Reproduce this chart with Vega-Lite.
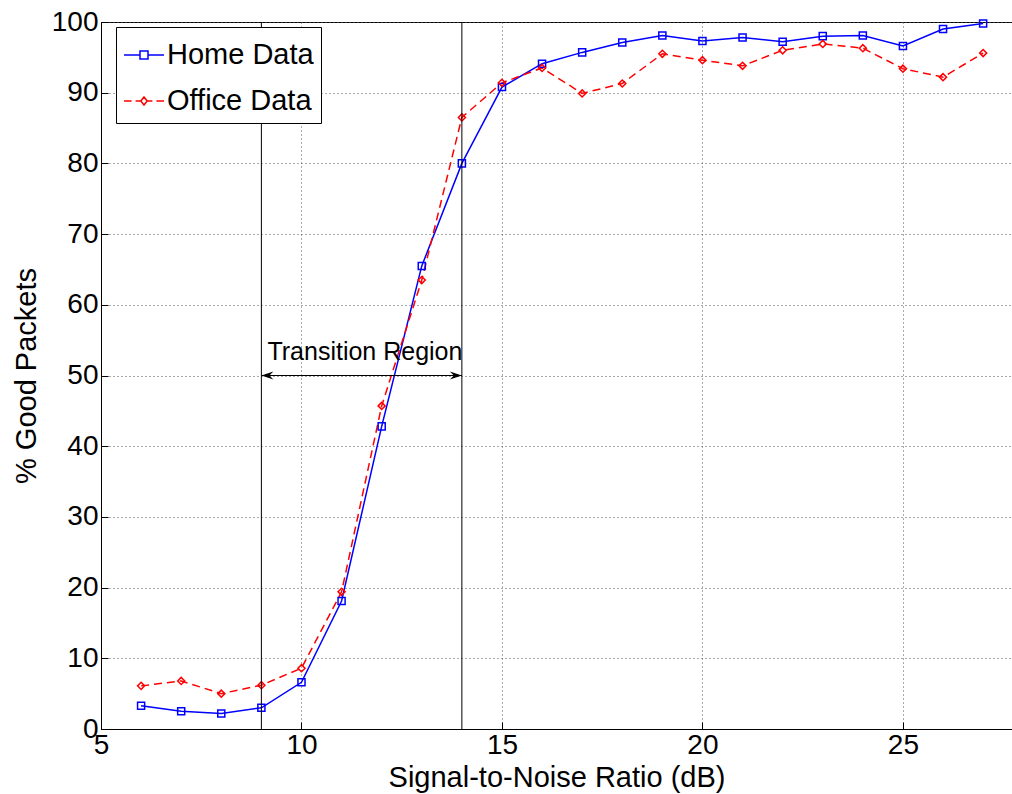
{
  "$schema": "https://vega.github.io/schema/vega-lite/v6.json",
  "autosize": "none",
  "padding": {"left": 101, "top": 22, "right": 0, "bottom": 65},
  "width": 911,
  "height": 707,
  "background": "white",
  "config": {
    "view": {"stroke": "black", "strokeWidth": 1},
    "font": "Liberation Sans",
    "axis": {
      "labelFont": "Liberation Sans", "labelFontSize": 28, "labelColor": "black",
      "titleFont": "Liberation Sans", "titleFontSize": 29, "titleFontWeight": "normal", "titleColor": "black",
      "domainColor": "black", "tickColor": "black", "tickSize": -7,
      "grid": true, "gridColor": "#555", "gridDash": [1, 3], "gridWidth": 1,
      "labelOverlap": false, "labelFlush": false, "labelBound": false
    },
    "legend": {
      "title": null, "orient": "none", "legendX": 15, "legendY": 5, "direction": "vertical",
      "strokeColor": "black", "fillColor": "white", "padding": 7,
      "labelFont": "Liberation Sans", "labelFontSize": 29, "labelColor": "black", "labelLimit": 400,
      "symbolSize": 1600, "symbolStrokeWidth": 1.5, "symbolOpacity": 1, "symbolFillColor": "transparent",
      "labelOffset": 2, "rowPadding": 10
    }
  },
  "datasets": {
    "perf": [
      {"snr": 6, "series": "Home Data", "pct": 3.3},
      {"snr": 7, "series": "Home Data", "pct": 2.5},
      {"snr": 8, "series": "Home Data", "pct": 2.2},
      {"snr": 9, "series": "Home Data", "pct": 3.0},
      {"snr": 10, "series": "Home Data", "pct": 6.6},
      {"snr": 11, "series": "Home Data", "pct": 18.1},
      {"snr": 12, "series": "Home Data", "pct": 42.8},
      {"snr": 13, "series": "Home Data", "pct": 65.5},
      {"snr": 14, "series": "Home Data", "pct": 80.0},
      {"snr": 15, "series": "Home Data", "pct": 90.8},
      {"snr": 16, "series": "Home Data", "pct": 94.1},
      {"snr": 17, "series": "Home Data", "pct": 95.7},
      {"snr": 18, "series": "Home Data", "pct": 97.1},
      {"snr": 19, "series": "Home Data", "pct": 98.1},
      {"snr": 20, "series": "Home Data", "pct": 97.3},
      {"snr": 21, "series": "Home Data", "pct": 97.8},
      {"snr": 22, "series": "Home Data", "pct": 97.2},
      {"snr": 23, "series": "Home Data", "pct": 98.0},
      {"snr": 24, "series": "Home Data", "pct": 98.1},
      {"snr": 25, "series": "Home Data", "pct": 96.6},
      {"snr": 26, "series": "Home Data", "pct": 99.0},
      {"snr": 27, "series": "Home Data", "pct": 99.8},
      {"snr": 6, "series": "Office Data", "pct": 6.1},
      {"snr": 7, "series": "Office Data", "pct": 6.8},
      {"snr": 8, "series": "Office Data", "pct": 5.0},
      {"snr": 9, "series": "Office Data", "pct": 6.2},
      {"snr": 10, "series": "Office Data", "pct": 8.6},
      {"snr": 11, "series": "Office Data", "pct": 19.4},
      {"snr": 12, "series": "Office Data", "pct": 45.7},
      {"snr": 13, "series": "Office Data", "pct": 63.5},
      {"snr": 14, "series": "Office Data", "pct": 86.5},
      {"snr": 15, "series": "Office Data", "pct": 91.4},
      {"snr": 16, "series": "Office Data", "pct": 93.5},
      {"snr": 17, "series": "Office Data", "pct": 89.9},
      {"snr": 18, "series": "Office Data", "pct": 91.3},
      {"snr": 19, "series": "Office Data", "pct": 95.5},
      {"snr": 20, "series": "Office Data", "pct": 94.6},
      {"snr": 21, "series": "Office Data", "pct": 93.8},
      {"snr": 22, "series": "Office Data", "pct": 96.0},
      {"snr": 23, "series": "Office Data", "pct": 96.9},
      {"snr": 24, "series": "Office Data", "pct": 96.3},
      {"snr": 25, "series": "Office Data", "pct": 93.4},
      {"snr": 26, "series": "Office Data", "pct": 92.2},
      {"snr": 27, "series": "Office Data", "pct": 95.6}
    ],
    "bounds": [{"snr": 9}, {"snr": 14}],
    "arrow": [{"from": 9, "to": 14, "pct": 50}],
    "arrowLeft": [{"snr": 9, "pct": 50}],
    "arrowRight": [{"snr": 14, "pct": 50}],
    "label": [{"snr": 9.15, "pct": 52.2, "text": "Transition Region"}]
  },
  "layer": [
    {
      "data": {"name": "perf"},
      "mark": {"type": "point", "filled": false, "size": 0, "strokeWidth": 0},
      "encoding": {
        "x": {"field": "snr", "type": "quantitative", "scale": {"domain": [5, 27.72], "nice": false, "zero": false},
              "axis": {"values": [5, 10, 15, 20, 25], "title": "Signal-to-Noise Ratio (dB)", "labelPadding": 9, "titlePadding": 4}},
        "y": {"field": "pct", "type": "quantitative", "scale": {"domain": [0, 100], "nice": false},
              "axis": {"values": [0, 10, 20, 30, 40, 50, 60, 70, 80, 90, 100], "title": "% Good Packets", "labelPadding": 10, "titlePadding": 10}},
        "color": {"field": "series", "type": "nominal",
                  "scale": {"domain": ["Home Data", "Office Data"], "range": ["#0000ff", "#ff0000"]}},
        "shape": {"field": "series", "type": "nominal",
                  "scale": {"domain": ["Home Data", "Office Data"],
                            "range": ["M-1,0H-0.2M0.2,0H1M-0.2,-0.2H0.2V0.2H-0.2Z", "M-1,0H-0.62M-0.42,0H-0.17M0.17,0H0.42M0.62,0H1M0,-0.2L0.16,0L0,0.2L-0.16,0Z"]}}
      }
    },
    {
      "data": {"name": "perf"},
      "transform": [{"filter": "datum.series === 'Home Data'"}],
      "mark": {"type": "line", "strokeWidth": 1.5, "color": "#0000ff"},
      "encoding": {
        "x": {"field": "snr", "type": "quantitative"},
        "y": {"field": "pct", "type": "quantitative"}
      }
    },
    {
      "data": {"name": "perf"},
      "transform": [{"filter": "datum.series === 'Office Data'"}],
      "mark": {"type": "line", "strokeWidth": 1.5, "strokeDash": [8, 5], "color": "#ff0000"},
      "encoding": {
        "x": {"field": "snr", "type": "quantitative"},
        "y": {"field": "pct", "type": "quantitative"}
      }
    },
    {
      "data": {"name": "perf"},
      "transform": [{"filter": "datum.series === 'Home Data'"}],
      "mark": {"type": "point", "filled": false, "strokeWidth": 1.5, "size": 50, "opacity": 1, "shape": "square", "color": "#0000ff"},
      "encoding": {
        "x": {"field": "snr", "type": "quantitative"},
        "y": {"field": "pct", "type": "quantitative"}
      }
    },
    {
      "data": {"name": "perf"},
      "transform": [{"filter": "datum.series === 'Office Data'"}],
      "mark": {"type": "point", "filled": false, "strokeWidth": 1.5, "size": 50, "opacity": 1, "shape": "diamond", "color": "#ff0000"},
      "encoding": {
        "x": {"field": "snr", "type": "quantitative"},
        "y": {"field": "pct", "type": "quantitative"}
      }
    },
    {
      "data": {"name": "bounds"},
      "mark": {"type": "rule", "color": "black", "strokeWidth": 1},
      "encoding": {
        "x": {"field": "snr", "type": "quantitative"}
      }
    },
    {
      "data": {"name": "arrow"},
      "mark": {"type": "rule", "color": "black", "strokeWidth": 1},
      "encoding": {
        "x": {"field": "from", "type": "quantitative"},
        "x2": {"field": "to"},
        "y": {"field": "pct", "type": "quantitative"}
      }
    },
    {
      "data": {"name": "arrowLeft"},
      "mark": {"type": "point", "filled": true, "color": "black", "opacity": 1, "size": 100,
               "shape": "M0,0L2.4,-0.8L1.6,0L2.4,0.8Z"},
      "encoding": {
        "x": {"field": "snr", "type": "quantitative"},
        "y": {"field": "pct", "type": "quantitative"}
      }
    },
    {
      "data": {"name": "arrowRight"},
      "mark": {"type": "point", "filled": true, "color": "black", "opacity": 1, "size": 100,
               "shape": "M0,0L-2.4,-0.8L-1.6,0L-2.4,0.8Z"},
      "encoding": {
        "x": {"field": "snr", "type": "quantitative"},
        "y": {"field": "pct", "type": "quantitative"}
      }
    },
    {
      "data": {"name": "label"},
      "mark": {"type": "text", "align": "left", "baseline": "alphabetic", "fontSize": 25, "font": "Liberation Sans", "color": "black"},
      "encoding": {
        "x": {"field": "snr", "type": "quantitative"},
        "y": {"field": "pct", "type": "quantitative"},
        "text": {"field": "text"}
      }
    }
  ]
}
